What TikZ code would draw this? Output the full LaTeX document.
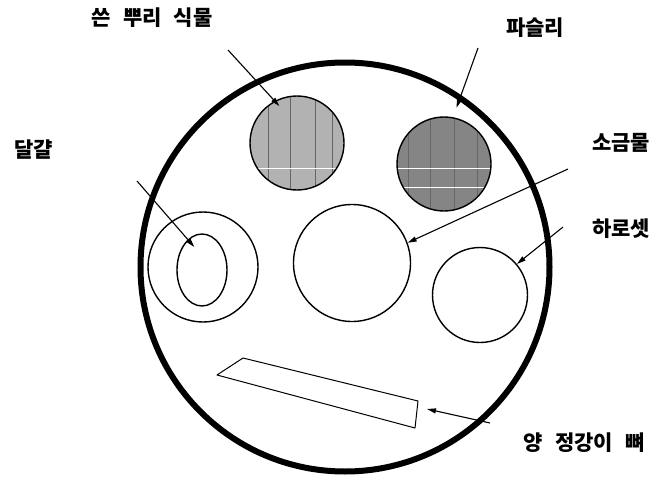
\documentclass[tikz,border=0pt]{standalone}
\usepackage{fontspec}
\newfontfamily\krfont{Noto Sans CJK KR}[WordSpace=2.5]
\usetikzlibrary{arrows.meta,shapes.geometric}

\begin{document}
\begin{tikzpicture}[x=1pt,y=-1pt,>={Triangle[length=9pt,width=5pt]},
  lbl/.style={font=\krfont\bfseries\fontsize{21}{24}\selectfont,inner sep=0pt},
  dish/.style={draw,circle,line width=1.4pt,inner sep=0pt},
  arr/.style={->,line width=1.1pt},
  hatch/.style n args={2}{path picture={
    \foreach \d in {#1}
      \draw[black!60,line width=.45pt] ([xshift=\d pt]path picture bounding box.north west)
        -- ([xshift=\d pt]path picture bounding box.south west);
    \foreach \d in {#2}
      \draw[white,line width=.8pt] ([yshift=-\d pt]path picture bounding box.north west)
        -- ([yshift=-\d pt]path picture bounding box.north east);}}]
\useasboundingbox (0,0) rectangle (654,479);
% seder plate
\node[draw,circle,line width=6pt,minimum size=409pt,inner sep=0pt] (plate) at (345,267) {};
\node[dish,fill=black!30,minimum size=94pt,hatch={18,40,65,82}{72}] (bitter) at (297,143) {};
\node[dish,fill=black!48,minimum size=94pt,hatch={11,33,57,80}{51,70}] (parsley) at (444,164) {};
\node[dish,minimum size=110pt] (egg) at (203,267) {};
\node[draw,ellipse,line width=1.4pt,minimum width=50pt,minimum height=72pt,inner sep=0pt] (eggin) at (202,270) {};
\node[dish,minimum size=117pt] (salt) at (352,263) {};
\node[dish,minimum size=95pt] (haroset) at (480,295) {};
\coordinate (bone1) at (217,375);
\coordinate (bone2) at (243,358);
\coordinate (bone3) at (418,401);
\coordinate (bone4) at (415,428);
\draw[line width=1pt,line join=round] (bone1) -- (bone2) -- (bone3) -- (bone4) -- cycle;
% labels
\node[lbl] (bitterlbl) at (152,18) {쓴 뿌리 식물};
\node[lbl] (parsleylbl) at (535,28) {파슬리};
\node[lbl] (egglbl) at (34,150) {달걀};
\node[lbl] (saltlbl) at (621,143) {소금물};
\node[lbl] (harosetlbl) at (621,229) {하로셋};
\node[lbl] (bonelbl) at (584,443) {양 정강이 뼈};
% pointers
\coordinate (bittertail) at (228,50);
\coordinate (parsleytail) at (478,48);
\coordinate (eggtail) at (137,181);
\coordinate (salttail) at (568,169);
\coordinate (harosettail) at (563,227);
\coordinate (bonetail) at (490,423);
\coordinate (bonetip) at (427,409);
\draw[arr,shorten >=-7pt] (bittertail) -- (bitter.118);
\draw[arr,shorten >=10pt] (parsleytail) -- (parsley.79);
\draw[arr,shorten >=-10pt] (eggtail) -- (eggin.115);
\draw[arr] (salttail) -- (salt.20);
\draw[arr] (harosettail) -- (haroset.40);
\draw[arr] (bonetail) -- (bonetip);
\end{tikzpicture}
\end{document}
